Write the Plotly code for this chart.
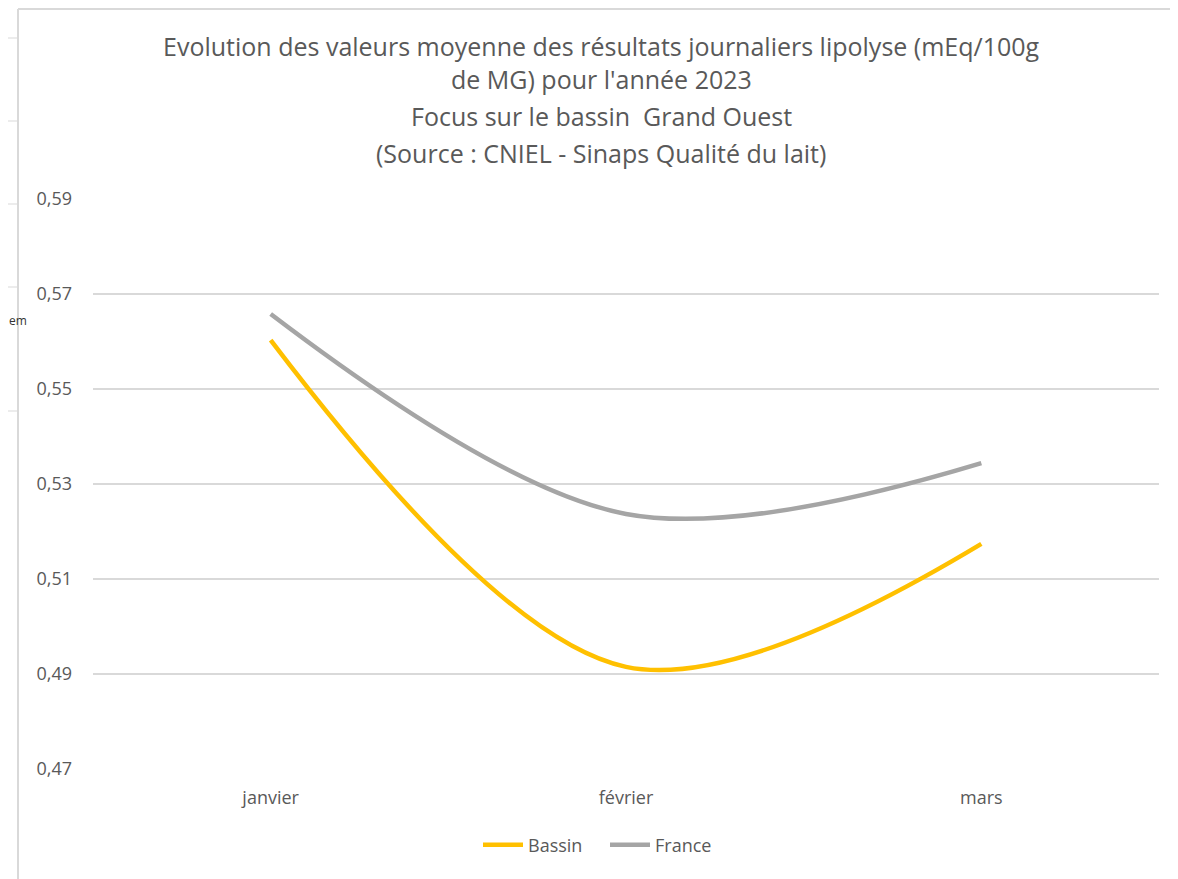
import plotly.graph_objects as go

mois = ["janvier", "février", "mars"]
bassin = [0.5603, 0.4915, 0.5174]
france = [0.5658, 0.5237, 0.5344]
ticks_y = [0.47, 0.49, 0.51, 0.53, 0.55, 0.57, 0.59]
ticks_txt = ["0,47", "0,49", "0,51", "0,53", "0,55", "0,57", "0,59"]

titre = [
    "Evolution des valeurs moyenne des résultats journaliers lipolyse (mEq/100g",
    "de MG) pour l'année 2023",
    "Focus sur le bassin  Grand Ouest",
    "(Source : CNIEL - Sinaps Qualité du lait)",
]

# the page body has an 8px margin, so the figure is 8px smaller than the window
OFF = 8
W, H = 1178 - OFF, 879 - OFF
L, R, T, B = 93 - OFF, 19, 199 - OFF, 110
pw, ph = W - L - R, H - T - B


def px_x(x):
    # x in window pixels -> paper coords
    return (x - OFF - L) / pw


def px_y(y):
    return (H - B - (y - OFF)) / ph


fig = go.Figure()
fig.add_trace(go.Scatter(x=mois, y=bassin, name="Bassin", mode="lines",
                         line=dict(color="#FFC000", width=4.5, shape="spline", smoothing=1)))
fig.add_trace(go.Scatter(x=mois, y=france, name="France", mode="lines",
                         line=dict(color="#A5A5A5", width=4.5, shape="spline", smoothing=1)))

# title lines
for txt, yp in zip(titre, [46, 79, 116, 153]):
    fig.add_annotation(text=txt, x=px_x(601), y=px_y(yp), xref="paper", yref="paper",
                       showarrow=False, xanchor="center", yanchor="middle",
                       font=dict(size=25, color="#595959"))

# chart frame + spreadsheet cells behind it
grey = "#D9D9D9"
fig.add_shape(type="line", xref="paper", yref="paper", x0=px_x(18), x1=px_x(18),
              y0=px_y(9), y1=px_y(879), line=dict(color=grey, width=2))
fig.add_shape(type="line", xref="paper", yref="paper", x0=px_x(18), x1=px_x(1178),
              y0=px_y(9), y1=px_y(9), line=dict(color=grey, width=2))
fig.add_shape(type="line", xref="paper", yref="paper", x0=px_x(96), x1=px_x(96),
              y0=px_y(0), y1=px_y(9), line=dict(color=grey, width=1))
for yc in [38, 121, 204, 287, 411]:
    fig.add_shape(type="line", xref="paper", yref="paper", x0=px_x(0), x1=px_x(17),
                  y0=px_y(yc), y1=px_y(yc), line=dict(color=grey, width=1))
fig.add_annotation(text="em", x=px_x(OFF), y=px_y(320), xref="paper", yref="paper",
                   showarrow=False, xanchor="left", yanchor="middle", xshift=-1,
                   font=dict(size=12, color="#333333"))

fig.update_layout(
    width=W, height=H,
    margin=dict(l=L, r=R, t=T, b=B),
    paper_bgcolor="white", plot_bgcolor="white",
    font=dict(family="Open Sans, Noto Sans, sans-serif", color="#595959"),
    showlegend=True,
    legend=dict(orientation="h", x=px_x(478), y=px_y(845), xanchor="left", yanchor="middle",
                font=dict(size=18, color="#595959"), itemwidth=40,
                entrywidth=72, entrywidthmode="pixels"),
)
fig.update_xaxes(showgrid=False, showline=False, zeroline=False, ticks="",
                 tickfont=dict(size=18, color="#595959"), ticklabelstandoff=16,
                 range=[-0.5, 2.5])
fig.update_yaxes(range=[0.47, 0.59], tickvals=ticks_y, ticktext=ticks_txt,
                 showgrid=True, gridcolor=grey, gridwidth=2, zeroline=False,
                 showline=False, ticks="", tickfont=dict(size=18, color="#595959"),
                 ticklabelstandoff=20)

fig.write_html("out.html")
